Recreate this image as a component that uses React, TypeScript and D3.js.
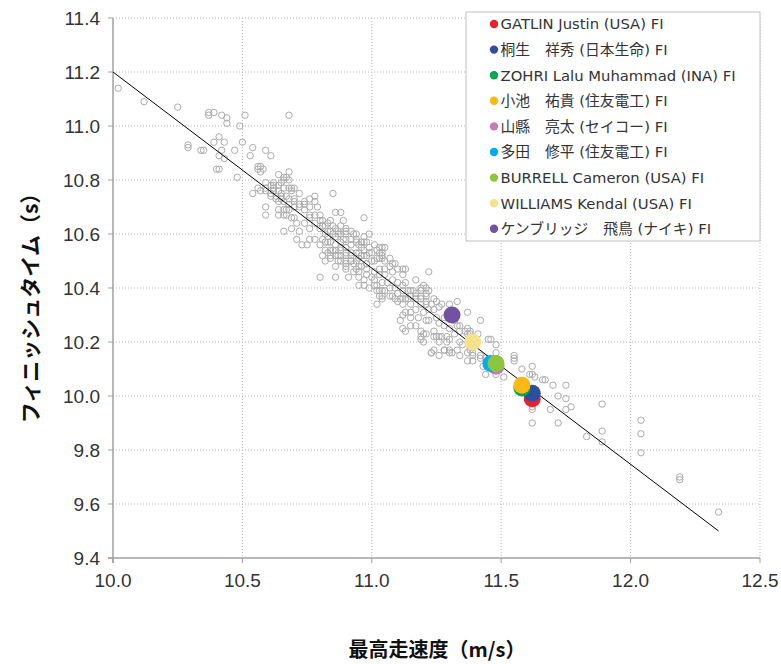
import React from 'react';
import * as d3 from 'd3';

const W = 781;
const H = 664;
const plot = { left: 113, right: 760, top: 18, bottom: 558 };

const xTicks = [10.0, 10.5, 11.0, 11.5, 12.0, 12.5];
const yTicks = [9.4, 9.6, 9.8, 10.0, 10.2, 10.4, 10.6, 10.8, 11.0, 11.2, 11.4];

// [top speed (m/s), finish time (s)] for all other races
const otherRaces: [number, number][] = [
  [10.02,11.14],[10.12,11.09],[10.25,11.07],[10.37,11.05],[10.37,11.04],[10.39,11.05],[10.42,11.04],[10.44,11.03],[10.44,11.01],[10.51,11.04],[10.68,11.04],[10.49,11.00],
  [10.29,10.93],[10.29,10.92],[10.39,10.94],[10.43,10.94],[10.41,10.96],[10.50,10.94],[10.34,10.91],[10.35,10.91],[10.42,10.91],[10.47,10.91],[10.41,10.89],[10.43,10.88],[10.54,10.92],[10.59,10.91],[10.61,10.89],[10.53,10.89],
  [10.40,10.84],[10.41,10.84],[10.48,10.81],[10.56,10.85],[10.57,10.85],[10.58,10.84],[10.56,10.84],[10.57,10.83],[10.54,10.75],[10.59,10.79],[10.59,10.70],[10.59,10.67],[10.64,10.82],[10.66,10.81],[10.68,10.80],[10.68,10.83],[10.62,10.79],[10.62,10.78],[10.65,10.79],[10.69,10.77],[10.72,10.75],[10.85,10.75],[10.64,10.69],[10.64,10.67],[10.66,10.61],[10.71,10.58],[10.73,10.56],[10.75,10.56],[10.86,10.68],[10.88,10.68],
  [10.59,10.77],[10.56,10.77],[10.57,10.76],[10.62,10.77],[10.64,10.78],[10.66,10.77],[10.68,10.77],[10.69,10.76],[10.70,10.77],[10.65,10.75],[10.61,10.75],[10.63,10.73],[10.65,10.73],[10.68,10.73],[10.67,10.69],[10.70,10.72],[10.72,10.70],[10.74,10.72],[10.74,10.69],[10.76,10.73],[10.78,10.74],[10.78,10.72],[10.76,10.70],[10.79,10.70],[10.67,10.67],[10.70,10.66],[10.76,10.67],[10.78,10.67],
  [10.67,10.81],[10.66,10.80],[10.61,10.78],[10.59,10.76],[10.62,10.76],[10.64,10.76],[10.67,10.74],[10.65,10.74],[10.63,10.74],[10.61,10.74],[10.64,10.72],[10.66,10.72],[10.66,10.69],[10.68,10.69],[10.66,10.67],[10.68,10.71],[10.70,10.73],[10.70,10.70],[10.72,10.71],[10.74,10.71],[10.97,10.66],
  [10.69,10.66],[10.71,10.64],[10.69,10.62],[10.72,10.61],[10.74,10.64],[10.76,10.66],[10.80,10.67],[10.80,10.65],[10.78,10.64],[10.76,10.62],[10.76,10.58],[10.78,10.58],[10.80,10.62],[10.82,10.63],[10.84,10.65],[10.82,10.60],[10.84,10.61],[10.86,10.62],[10.86,10.59],[10.88,10.60],[10.88,10.63],[10.90,10.61],[10.92,10.61],[10.90,10.58],[10.92,10.58],[10.94,10.60],[10.88,10.57],[10.86,10.56],[10.84,10.57],[10.82,10.57],[10.80,10.56],[10.82,10.54],[10.84,10.54],[10.86,10.54],[10.88,10.54],[10.90,10.55],[10.92,10.56],[10.94,10.57],[10.96,10.57],[10.98,10.57],[10.96,10.55],[10.94,10.53],[10.92,10.52],[10.90,10.52],[10.88,10.52],[10.86,10.52],[10.84,10.51],[10.82,10.50],[10.88,10.50],[10.90,10.49],[10.92,10.50],[10.94,10.50],[10.96,10.52],[10.98,10.52],[11.00,10.53],[11.02,10.54],[11.04,10.55],[11.05,10.55],[11.04,10.52],[11.02,10.51],[11.00,10.50],[10.98,10.49],[10.96,10.48],[10.94,10.47],[10.98,10.47],
  [10.89,10.65],[10.81,10.65],[10.83,10.64],[10.85,10.63],[10.81,10.63],[10.83,10.61],[10.87,10.61],[10.90,10.62],[10.93,10.60],[10.90,10.60],[10.87,10.60],[10.85,10.60],[10.83,10.59],[10.81,10.58],[10.83,10.57],[10.89,10.58],[10.94,10.58],[10.97,10.59],[10.99,10.60],[10.97,10.57],[10.95,10.56],[10.90,10.55],[10.88,10.55],[10.85,10.54],[10.83,10.53],[10.81,10.52],[10.84,10.52],[10.87,10.52],[10.90,10.53],[10.92,10.53],[10.95,10.53],[10.97,10.54],[10.99,10.55],[11.01,10.56],[10.99,10.53],[10.97,10.52],[10.95,10.51],[10.92,10.50],[10.90,10.50],[10.87,10.50],[10.86,10.48],[10.90,10.48],[10.93,10.49],[10.95,10.48],[10.98,10.49],[11.01,10.50],[11.03,10.51],[11.04,10.53],[11.03,10.55],[11.05,10.50],[11.07,10.51],[11.09,10.49],[11.07,10.48],[11.05,10.47],[11.03,10.47],[11.01,10.46],[10.98,10.45],[10.95,10.46],[10.93,10.46],[10.91,10.44],[10.95,10.44],[10.97,10.43],[11.00,10.44],[11.03,10.45],[11.05,10.45],[11.08,10.46],[11.10,10.47],[11.12,10.45],[11.13,10.47],[11.10,10.42],[11.08,10.43],[11.06,10.42],[11.04,10.42],[11.01,10.41],[10.99,10.40],[10.97,10.41],[10.95,10.41],[11.02,10.39],[11.04,10.39],[11.07,10.40],[11.09,10.40],[11.12,10.41],[11.13,10.42],[11.17,10.43],[11.15,10.39],[11.12,10.39],[11.10,10.38],[11.07,10.37],[11.04,10.37],[11.03,10.37],[11.11,10.36],[11.13,10.36],[11.15,10.37],[11.17,10.38],[11.19,10.39],[11.19,10.36],[11.17,10.36],[11.15,10.34],[11.12,10.34],[11.10,10.35],[11.21,10.37],[11.21,10.35],[11.22,10.46],[10.80,10.44],[10.86,10.44],[10.90,10.47],
  [11.12,10.47],[11.19,10.40],[11.21,10.40],[11.16,10.39],[11.14,10.39],[11.08,10.37],[11.12,10.36],[11.14,10.36],[11.17,10.37],[11.19,10.37],[11.21,10.38],[11.22,10.39],
  [11.02,10.41],[11.01,10.43],[11.03,10.39],[11.05,10.39],[11.09,10.36],[11.04,10.36],[11.02,10.34],[11.12,10.30],[11.11,10.28],[11.15,10.29],[11.12,10.25],[11.13,10.24],[11.19,10.22],
  [11.24,10.36],[11.25,10.35],[11.23,10.34],[11.21,10.34],[11.19,10.34],[11.17,10.32],[11.15,10.31],[11.13,10.31],[11.18,10.29],[11.20,10.31],[11.22,10.32],[11.24,10.32],[11.26,10.33],[11.27,10.34],[11.21,10.28],[11.22,10.28],[11.25,10.29],[11.28,10.29],[11.30,10.34],[11.33,10.35],[11.37,10.31],[11.32,10.28],[11.33,10.26],[11.30,10.25],[11.28,10.26],[11.26,10.27],[11.24,10.24],[11.19,10.24],[11.21,10.23],[11.25,10.22],[11.27,10.22],[11.30,10.21],[11.32,10.23],[11.34,10.24],[11.36,10.24],[11.38,10.24],[11.37,10.23],[11.34,10.20],[11.35,10.19],[11.38,10.17],[11.33,10.17],[11.31,10.16],[11.28,10.17],[11.23,10.16],[11.26,10.15],[11.34,10.15],[11.37,10.16],[11.39,10.16],[11.39,10.15],[11.42,10.15],[11.42,10.28],[11.45,10.21],[11.48,10.19],[11.41,10.23],
  [11.46,10.21],[11.48,10.16],[11.55,10.15],[11.55,10.14],[11.55,10.13],[11.51,10.07],[11.58,10.10],[11.61,10.08],[11.62,10.11],[11.63,10.07],[11.67,10.06],[11.60,10.00],[11.62,9.95],[11.62,9.90],[11.44,10.08],[11.48,10.08],[11.62,10.08],[11.66,10.06],[11.70,10.04],[11.75,10.04],[11.72,10.00],[11.75,9.99],[11.77,9.96],[11.75,9.95],[11.69,9.95],[11.72,9.90],[11.62,9.96],[11.83,9.85],[11.89,9.87],[11.89,9.83],[11.89,9.97],[12.04,9.91],[12.04,9.86],[12.04,9.79],[12.19,9.70],[12.19,9.69],[12.34,9.57],[11.44,10.14],[11.45,10.13],[11.43,10.11],
  [11.23,10.16],[11.24,10.17],[11.28,10.17],[11.30,10.17],[11.30,10.16],[11.37,10.13],[11.39,10.13],[11.42,10.14],[11.19,10.21],[11.20,10.20],[11.15,10.26],[11.17,10.26],[11.20,10.23],[11.24,10.22],[11.26,10.22],[11.26,10.20],[11.29,10.20],[11.29,10.22],[11.34,10.26],[11.37,10.25],[11.38,10.23],[11.08,10.49],[11.04,10.51],[11.03,10.53],[11.20,10.41]
];

// Highlighted finals (FI)
const athleteNames = [
  'GATLIN Justin (USA) FI',
  '桐生　祥秀 (日本生命) FI',
  'ZOHRI Lalu Muhammad (INA) FI',
  '小池　祐貴 (住友電工) FI',
  '山縣　亮太 (セイコー) FI',
  '多田　修平 (住友電工) FI',
  'BURRELL Cameron (USA) FI',
  'WILLIAMS Kendal (USA) FI',
  'ケンブリッジ　飛鳥 (ナイキ) FI',
];
const athleteSpeeds = [11.62, 11.62, 11.58, 11.58, 11.48, 11.46, 11.48, 11.39, 11.31];
const athleteTimes = [9.99, 10.01, 10.03, 10.04, 10.11, 10.12, 10.12, 10.20, 10.30];
const athleteColors = ['#e8222d', '#2e4ea0', '#00a651', '#fdb913', '#c97bb6', '#00adef', '#8cc63f', '#f6e28c', '#7352a3'];

// regression line endpoints [speed, time]
const fitLine: [number, number][] = [[10.0, 11.2], [12.34, 9.5]];

export default function App() {
  const x = d3.scaleLinear().domain([10.0, 12.5]).range([plot.left, plot.right]);
  const y = d3.scaleLinear().domain([9.4, 11.4]).range([plot.bottom, plot.top]);
  const line = d3.line<[number, number]>().x(d => x(d[0])).y(d => y(d[1]));
  const tickFont = '"Liberation Sans", Arial, sans-serif';
  const jpFont = '"Noto Sans CJK JP", sans-serif';
  const legendFont = '"DejaVu Sans", "Noto Sans CJK JP", sans-serif';
  const legend = { x: 466, y: 12, w: 294, h: 229, row0: 24, step: 25.6 };

  return (
    <svg width={W} height={H} style={{ position: 'absolute', left: 0, top: 0, background: '#fff' }}>
      {/* grid */}
      {xTicks.slice(1).map(t => (
        <line key={'gx' + t} x1={x(t)} x2={x(t)} y1={plot.top} y2={plot.bottom} stroke="#b5b5b5" strokeWidth={1} strokeDasharray="1,2" />
      ))}
      {yTicks.slice(1).map(t => (
        <line key={'gy' + t} x1={plot.left} x2={plot.right} y1={y(t)} y2={y(t)} stroke="#b5b5b5" strokeWidth={1} strokeDasharray="1,2" />
      ))}
      {/* axes */}
      <line x1={plot.left} x2={plot.left} y1={plot.top} y2={plot.bottom + 5} stroke="#a0a0a0" strokeWidth={1.5} />
      <line x1={plot.left - 5} x2={plot.right} y1={plot.bottom} y2={plot.bottom} stroke="#a0a0a0" strokeWidth={1.5} />
      {yTicks.map(t => (
        <line key={'ty' + t} x1={plot.left - 5} x2={plot.left} y1={y(t)} y2={y(t)} stroke="#a0a0a0" strokeWidth={1} />
      ))}
      {xTicks.map(t => (
        <line key={'tx' + t} x1={x(t)} x2={x(t)} y1={plot.bottom} y2={plot.bottom + 5} stroke="#a0a0a0" strokeWidth={1} />
      ))}
      {yTicks.map(t => (
        <text key={'ly' + t} x={plot.left - 13} y={y(t)} dy="0.36em" textAnchor="end" fontFamily={tickFont} fontSize={19} fill="#333">
          {t.toFixed(1)}
        </text>
      ))}
      {xTicks.map(t => (
        <text key={'lx' + t} x={x(t)} y={plot.bottom + 29} textAnchor="middle" fontFamily={tickFont} fontSize={19} fill="#333">
          {t.toFixed(1)}
        </text>
      ))}
      {/* other races */}
      {otherRaces.map((d, i) => (
        <circle key={'o' + i} cx={x(d[0])} cy={y(d[1])} r={3.2} fill="none" stroke="#ababab" strokeWidth={1} />
      ))}
      {/* regression */}
      <path d={line(fitLine) || ''} stroke="#000" strokeWidth={1} fill="none" />
      {/* highlighted */}
      {athleteNames.map((n, i) => (
        <circle key={'a' + i} cx={x(athleteSpeeds[i])} cy={y(athleteTimes[i])} r={8.5} fill={athleteColors[i]} />
      ))}
      {/* legend */}
      <rect x={legend.x} y={legend.y} width={legend.w} height={legend.h} fill="#fff" stroke="#c0c0c0" strokeWidth={1} />
      {athleteNames.map((n, i) => (
        <g key={'lg' + i} transform={`translate(${legend.x + 28},${legend.y + legend.row0 - 12 + i * legend.step})`}>
          <circle cx={0} cy={0} r={4.2} fill={athleteColors[i]} />
          <text x={6.5} y={0} dy="0.36em" fontFamily={legendFont} fontSize={14.8} fill="#333">{n}</text>
        </g>
      ))}
      {/* axis titles */}
      <text transform={`translate(30,303) rotate(-90)`} textAnchor="middle" dy="0.36em" fontFamily={jpFont} fontWeight="bold" fontSize={21} fill="#111">
        フィニッシュタイム（s）
      </text>
      <text x={437} y={657} textAnchor="middle" fontFamily={jpFont} fontWeight="bold" fontSize={20} fill="#111">
        最高走速度（m/s）
      </text>
    </svg>
  );
}
